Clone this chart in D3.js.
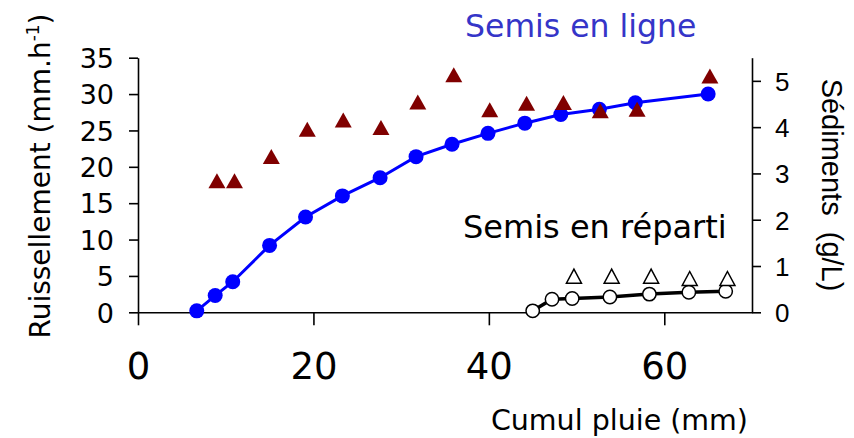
<!DOCTYPE html>
<html>
<head>
<meta charset="utf-8">
<script src="https://cdn.jsdelivr.net/npm/d3@7"></script>
<style>
  body { margin: 0; background: #fff; }
  svg { display: block; }
</style>
</head>
<body>
<div id="chart"></div>
<script>
// Semis en ligne : ruissellement (axe gauche) et sédiments (axe droit)
const ligneX = [6.7, 8.8, 10.8, 15.0, 19.1, 23.3, 27.6, 31.7, 35.8, 39.9, 44.1, 48.2, 52.6, 56.7, 65.0];
const ligneRuiss = [0.2, 2.3, 4.2, 9.2, 13.1, 16.0, 18.5, 21.4, 23.1, 24.6, 26.0, 27.2, 27.9, 28.8, 30.0];
const ligneSedX = [9.0, 11.0, 15.2, 19.3, 23.4, 27.7, 31.9, 36.0, 40.1, 44.3, 48.5, 52.7, 56.9, 65.2];
const ligneSed = [2.79, 2.79, 3.31, 3.90, 4.10, 3.94, 4.49, 5.08, 4.32, 4.46, 4.48, 4.30, 4.33, 5.05];

// Semis en réparti
const repartiX = [45.0, 47.2, 49.5, 53.8, 58.3, 62.8, 67.0];
const repartiRuiss = [0.2, 1.8, 1.9, 2.1, 2.5, 2.75, 2.9];
const repartiSedX = [49.7, 54.0, 58.5, 62.9, 67.2];
const repartiSed = [0.73, 0.73, 0.73, 0.68, 0.68];

// ticks
const xTicks = [0, 20, 40, 60];
const yLeftTicks = [0, 5, 10, 15, 20, 25, 30, 35];
const yRightTicks = [0, 1, 2, 3, 4, 5];

const width = 854, height = 438;

const svg = d3.select('#chart').append('svg')
  .attr('width', width)
  .attr('height', height);

const x = d3.scaleLinear().domain([0, 70]).range([138, 752]);
const yL = d3.scaleLinear().domain([0, 35]).range([312.3, 57.7]);
const yR = d3.scaleLinear().domain([0, 5.5]).range([312.3, 57.7]);

const sans = 'DejaVu Sans, Verdana, sans-serif';
const arial = 'Liberation Sans, Arial, sans-serif';

// axes
const gx = svg.append('g')
  .attr('transform', `translate(0,${yL(0)})`)
  .call(d3.axisBottom(x).tickValues(xTicks).tickSize(13).tickSizeOuter(0).tickPadding(0));
gx.selectAll('text')
  .attr('y', 67).attr('dy', 0)
  .style('font-family', sans).style('font-size', '37px');

const gl = svg.append('g')
  .attr('transform', `translate(${x(0)},0)`)
  .call(d3.axisLeft(yL).tickValues(yLeftTicks).tickSize(9).tickSizeOuter(0).tickPadding(15));
gl.selectAll('text')
  .attr('dy', '0.36em')
  .style('font-family', sans).style('font-size', '27px');

const gr = svg.append('g')
  .attr('transform', `translate(${x(70)},0)`)
  .call(d3.axisRight(yR).tickValues(yRightTicks).tickFormat(d3.format('d'))
    .tickSize(9).tickSizeOuter(0).tickPadding(14));
gr.selectAll('text')
  .attr('dy', '0.36em')
  .style('font-family', arial).style('font-size', '26px');

svg.selectAll('.domain, .tick line')
  .attr('stroke', '#000')
  .attr('stroke-width', 1.6);
svg.selectAll('.tick text').attr('fill', '#000');

// series
const lineL = d3.line().x(d => x(d[0])).y(d => yL(d[1]));

const tri = (w, h) => `M0,${-2 * h / 3}L${w / 2},${h / 3}L${-w / 2},${h / 3}Z`;

svg.append('path')
  .datum(d3.zip(ligneX, ligneRuiss))
  .attr('d', lineL)
  .attr('fill', 'none')
  .attr('stroke', '#0000ff')
  .attr('stroke-width', 3);

svg.selectAll('.ligne-pt')
  .data(d3.zip(ligneX, ligneRuiss))
  .enter().append('circle')
  .attr('class', 'ligne-pt')
  .attr('cx', d => x(d[0]))
  .attr('cy', d => yL(d[1]))
  .attr('r', 7.5)
  .attr('fill', '#0000ff');

svg.selectAll('.ligne-sed')
  .data(d3.zip(ligneSedX, ligneSed))
  .enter().append('path')
  .attr('class', 'ligne-sed')
  .attr('transform', d => `translate(${x(d[0])},${yR(d[1])})`)
  .attr('d', tri(17, 15))
  .attr('fill', '#800000');

svg.append('path')
  .datum(d3.zip(repartiX, repartiRuiss))
  .attr('d', lineL)
  .attr('fill', 'none')
  .attr('stroke', '#000')
  .attr('stroke-width', 3.5);

svg.selectAll('.rep-pt')
  .data(d3.zip(repartiX, repartiRuiss))
  .enter().append('circle')
  .attr('class', 'rep-pt')
  .attr('cx', d => x(d[0]))
  .attr('cy', d => yL(d[1]))
  .attr('r', 6.7)
  .attr('fill', '#fff')
  .attr('stroke', '#000')
  .attr('stroke-width', 1.5);

svg.selectAll('.rep-sed')
  .data(d3.zip(repartiSedX, repartiSed))
  .enter().append('path')
  .attr('class', 'rep-sed')
  .attr('transform', d => `translate(${x(d[0])},${yR(d[1])})`)
  .attr('d', tri(15, 14))
  .attr('fill', '#fff')
  .attr('stroke', '#000')
  .attr('stroke-width', 1.5);

// labels
svg.append('text')
  .attr('x', 465).attr('y', 36.5)
  .style('font-family', sans).style('font-size', '31.5px')
  .attr('fill', '#3535c8')
  .text('Semis en ligne');

svg.append('text')
  .attr('x', 463).attr('y', 238)
  .style('font-family', sans).style('font-size', '32px')
  .attr('fill', '#000')
  .text('Semis en réparti');

svg.append('text')
  .attr('x', 748).attr('y', 430)
  .attr('text-anchor', 'end')
  .style('font-family', sans).style('font-size', '28.5px')
  .text('Cumul pluie (mm)');

const yLab = svg.append('text')
  .attr('transform', 'translate(50,176) rotate(-90)')
  .attr('text-anchor', 'middle')
  .style('font-family', sans).style('font-size', '28px');
yLab.append('tspan').text('Ruissellement (mm.h');
yLab.append('tspan').attr('dy', -11).style('font-size', '17px').text('-1');
yLab.append('tspan').attr('dy', 11).text(')');

svg.append('text')
  .attr('transform', 'translate(822,185) rotate(90)')
  .attr('text-anchor', 'middle')
  .attr('xml:space', 'preserve')
  .style('white-space', 'pre')
  .style('font-family', arial).style('font-size', '29px')
  .text('Sédiments  (g/L)');
</script>
</body>
</html>
